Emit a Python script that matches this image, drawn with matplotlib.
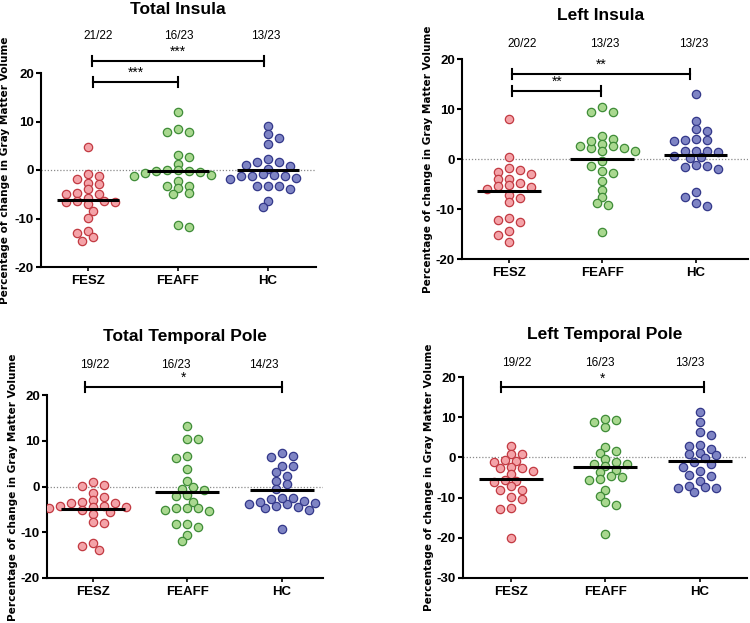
import numpy as np
import matplotlib
matplotlib.use("Agg")
import matplotlib.pyplot as plt

plt.rcParams['font.family'] = ['Liberation Sans', 'DejaVu Sans']
plt.rcParams['axes.unicode_minus'] = False

# ---------------- data ----------------
groups = ["FESZ", "FEAFF", "HC"]

total_insula_fesz = [4.8, -0.8, -1.2, -1.9, -2.6, -2.8, -4.0, -4.7, -5.0, -5.0, -5.7, -6.3,
                     -6.6, -7.1, -6.6, -6.3, -8.4, -9.9, -12.9, -12.6, -13.8, -14.7]
total_insula_feaff = [11.9, 8.5, 7.9, 7.9, 2.6, 3.0, 1.3, -0.05, -0.1, -0.2, -0.3, -0.35,
                      -0.6, -1.0, -1.2, -2.3, -3.4, -3.7, -3.3, -4.7, -5.0, -11.8, -11.4]
total_insula_hc = [9.0, 7.4, 6.5, 5.4, 1.7, 1.7, 2.2, 0.9, 1.0, 0.3, -0.9, -1.2, -1.2,
                   -1.2, -1.0, -1.7, -1.8, -3.2, -3.4, -3.4, -4.0, -6.4, -7.7]

left_insula_fesz = [8.0, 0.5, -2.1, -2.5, -1.7, -2.9, -4.0, -3.9, -5.2, -5.6, -5.9, -5.3,
                    -4.7, -7.1, -8.5, -7.7, -12.2, -12.5, -11.7, -14.3, -15.1, -16.5]
left_insula_feaff = [10.4, 9.4, 9.4, 4.7, 4.1, 3.1, 2.6, 2.3, 2.7, 3.7, 1.7, 1.6, 2.2,
                     -0.4, -2.3, -1.4, -2.7, -4.3, -6.1, -7.5, -8.7, -9.1, -14.5]
left_insula_hc = [13.0, 7.7, 6.0, 5.6, 3.9, 3.7, 3.8, 4.0, 1.5, 1.7, 1.7, 1.6, 0.7, 0.3,
                  0.5, -1.4, -2.0, -1.5, -1.1, -6.5, -7.6, -8.8, -9.3]

total_tp_fesz = [0.3, 0.9, 0.05, -1.5, -2.4, -3.0, -3.3, -3.5, -3.6, -4.2, -4.4, -4.5,
                 -4.6, -4.3, -5.5, -5.2, -6.0, -7.8, -7.9, -12.4, -13.1, -13.8]
total_tp_feaff = [13.2, 10.3, 10.3, 6.3, 6.6, 3.8, 1.2, -0.6, -0.8, -0.2, -1.9, -2.0,
                  -3.3, -4.6, -4.7, -5.3, -5.1, -4.7, -8.3, -8.9, -8.3, -10.6, -12.0]
total_tp_hc = [6.7, 6.4, 7.4, 4.5, 4.4, 3.1, 2.4, 1.2, 0.5, -0.65, -5.1, -4.7, -4.2,
               -3.4, -3.9, -2.8, -3.6, -2.5, -4.4, -3.1, -3.9, -9.2, -2.6]

left_tp_fesz = [2.8, 0.8, 0.8, -1.0, -0.6, -1.1, -2.5, -2.7, -2.6, -4.2, -3.3, -5.8,
                -6.1, -5.6, -8.0, -8.1, -7.2, -9.8, -10.4, -12.6, -12.9, -20.1]
left_tp_feaff = [9.3, 7.5, 8.7, 9.6, 2.6, 1.7, 1.1, -0.3, -1.2, -1.6, -1.6, -2.1, -3.2,
                 -3.6, -4.6, -4.9, -5.6, -5.3, -8.0, -9.6, -11.2, -11.8, -19.0]
left_tp_hc = [11.3, 8.8, 5.6, 6.2, 2.8, 3.2, 2.1, 1.2, 0.9, 0.7, -0.2, -1.6, -1.1, -2.4,
              -3.3, -4.4, -4.6, -5.9, -7.0, -7.5, -7.7, -7.3, -8.5]

titles = ["Total Insula", "Left Insula", "Total Temporal Pole", "Left Temporal Pole"]
ratios_total_insula = ["21/22", "16/23", "13/23"]
ratios_left_insula = ["20/22", "13/23", "13/23"]
ratios_total_tp = ["19/22", "16/23", "14/23"]
ratios_left_tp = ["19/22", "16/23", "13/23"]
sig_total_insula = [("FESZ", "HC", "***"), ("FESZ", "FEAFF", "***")]
sig_left_insula = [("FESZ", "HC", "**"), ("FESZ", "FEAFF", "**")]
sig_total_tp = [("FESZ", "HC", "*")]
sig_left_tp = [("FESZ", "HC", "*")]
ylabel = "Percentage of change in Gray Matter Volume"

# ---------------- style / layout ----------------
W, H = 750, 623
fill_colors = ['#F4A3A8', '#A9D88F', '#7E84C4']
edge_colors = ['#C23A42', '#3F8C38', '#33388A']

panels = [
    dict(data=[total_insula_fesz, total_insula_feaff, total_insula_hc], title=titles[0],
         ratios=ratios_total_insula, sig=sig_total_insula,
         box=(41, 73, 316, 267), xlim=(-0.522, 2.533), ylim=(-20, 20), yticks=range(-20, 21, 10),
         title_xy=(178, 10), ratio_xy=[(98, 36), (179, 36), (266, 36)], ylab_xy=(5, 170),
         brk=[(0.04, 1.96, 22.5), (0.06, 1.0, 18.2)]),
    dict(data=[left_insula_fesz, left_insula_feaff, left_insula_hc], title=titles[1],
         ratios=ratios_left_insula, sig=sig_left_insula,
         box=(462, 59, 748, 259), xlim=(-0.5, 2.56), ylim=(-20, 20), yticks=range(-20, 21, 10),
         title_xy=(601, 15), ratio_xy=[(522, 44), (605, 44), (694, 44)], ylab_xy=(428, 159),
         brk=[(0.03, 1.94, 17.1), (0.04, 0.99, 13.6)]),
    dict(data=[total_tp_fesz, total_tp_feaff, total_tp_hc], title=titles[2],
         ratios=ratios_total_tp, sig=sig_total_tp,
         box=(47, 395, 323, 578), xlim=(-0.49, 2.44), ylim=(-20, 20), yticks=range(-20, 21, 10),
         title_xy=(185, 337), ratio_xy=[(95, 365), (176, 365), (264, 365)], ylab_xy=(13, 487),
         brk=[(-0.09, 2.01, 21.7)]),
    dict(data=[left_tp_fesz, left_tp_feaff, left_tp_hc], title=titles[3],
         ratios=ratios_left_tp, sig=sig_left_tp,
         box=(463, 377, 747, 578), xlim=(-0.504, 2.5), ylim=(-30, 20), yticks=range(-30, 21, 10),
         title_xy=(605, 335), ratio_xy=[(517, 363), (600, 363), (690, 363)], ylab_xy=(429, 477),
         brk=[(-0.1, 2.05, 17.4)]),
]

fig = plt.figure(figsize=(W / 100, H / 100), dpi=100)


def fx(px):
    return px / W


def fy(py):
    return 1 - py / H


def swarm(ax, cat, values, rx=10.5, ry=6.5, half_step_px=5.5):
    """Compact GraphPad-like column scatter (elliptical collision test, half-step grid)."""
    trans = ax.transData
    cx = trans.transform((cat, 0))[0]
    ys = np.array([trans.transform((cat, v))[1] for v in values])
    order = np.argsort(-np.asarray(values), kind='stable')
    placed = []
    xs = np.zeros(len(values))
    toggle = 1
    for i in order:
        y = ys[i]
        cands = [0]
        for m in range(1, 30):
            cands += [toggle * m, -toggle * m]
        for c in cands:
            x = cx + c * half_step_px
            if all(((x - px) / rx) ** 2 + ((y - py) / ry) ** 2 >= 1.0 for px, py in placed):
                break
        if c != 0:
            toggle = -toggle
        placed.append((x, y))
        xs[i] = x
    pts = trans.inverted().transform(np.column_stack([xs, ys]))
    return pts[:, 0]


for p in panels:
    l, t, r, b = p['box']
    ax = fig.add_axes([fx(l), fy(b), (r - l) / W, (b - t) / H])
    ax.set_xlim(*p['xlim'])
    ax.set_ylim(*p['ylim'])
    for s in ['top', 'right']:
        ax.spines[s].set_visible(False)
    for s in ['left', 'bottom']:
        ax.spines[s].set_linewidth(1.5)
    ax.set_yticks(list(p['yticks']))
    ax.set_yticklabels([str(v) for v in p['yticks']])
    ax.set_xticks(range(len(groups)))
    ax.set_xticklabels(groups)
    ax.tick_params(axis='y', direction='out', length=3.5, width=1.5, labelsize=9.5, pad=1.5)
    ax.tick_params(axis='x', direction='out', length=3, width=1.2, labelsize=9.5, pad=3)
    for lab in ax.get_xticklabels() + ax.get_yticklabels():
        lab.set_fontweight('bold')

    ax.axhline(0, color='#8a8a8a', lw=0.9, ls=(0, (1, 1.5)), zorder=1)

    for gi, vals in enumerate(p['data']):
        xs = swarm(ax, gi, vals)
        ax.scatter(xs, vals, s=36, facecolor=fill_colors[gi], edgecolor=edge_colors[gi],
                   linewidth=0.9, zorder=3)
        m = np.mean(vals)
        ax.plot([gi - 0.34, gi + 0.34], [m, m], color='black', lw=2.2, zorder=4,
                solid_capstyle='butt')

    # significance brackets
    ppu = (b - t) / (p['ylim'][1] - p['ylim'][0])
    tick_h = 5.0 / ppu
    for (x0, x1, yb), (g0, g1, stars) in zip(p['brk'], p['sig']):
        ax.plot([x0, x1], [yb, yb], color='black', lw=1.5, clip_on=False, zorder=5)
        for xe in (x0, x1):
            ax.plot([xe, xe], [yb - tick_h, yb + tick_h], color='black', lw=1.5,
                    clip_on=False, zorder=5)
        ax.annotate(stars, xy=((x0 + x1) / 2, yb), xytext=(0, 1.5), textcoords='offset points',
                    ha='center', va='bottom', fontsize=10, annotation_clip=False)

    fig.text(fx(p['title_xy'][0]), fy(p['title_xy'][1]), p['title'], ha='center', va='center',
             fontsize=12.5, fontweight='bold')
    for (rx_, ry_), txt in zip(p['ratio_xy'], p['ratios']):
        fig.text(fx(rx_), fy(ry_), txt, ha='center', va='center', fontsize=8.5)
    fig.text(fx(p['ylab_xy'][0]), fy(p['ylab_xy'][1]), ylabel, rotation=90, ha='center',
             va='center', fontsize=7.6, fontweight='bold', family='DejaVu Sans')

fig.savefig('out.png', dpi=100)
